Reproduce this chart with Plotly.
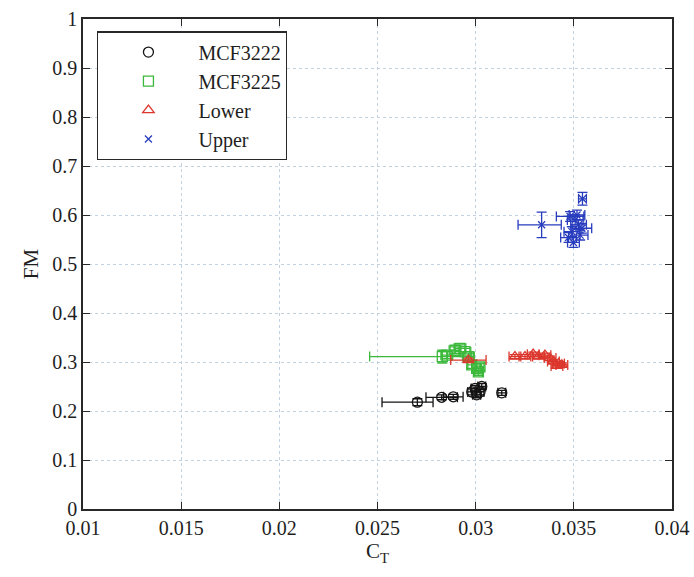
import plotly.graph_objects as go

# ---- data ----
mcf3222_ct = [0.02703, 0.02827, 0.02886, 0.02980, 0.02997, 0.03005, 0.03022, 0.03031, 0.03133]
mcf3222_fm = [0.218, 0.228, 0.229, 0.239, 0.246, 0.233, 0.239, 0.250, 0.237]
mcf3222_exm = [0.0018, 0.0008, 0.0005, 0.0002, 0.0002, 0.0002, 0.0002, 0.0002, 0.0002]
mcf3222_exp = [0.0008, 0.0008, 0.0005, 0.0002, 0.0002, 0.0002, 0.0002, 0.0002, 0.0002]
mcf3222_ey = [0.007, 0.005, 0.005, 0.006, 0.006, 0.006, 0.006, 0.006, 0.005]

mcf3225_ct = [0.0283, 0.02853, 0.02895, 0.0292, 0.02945, 0.02963, 0.0298, 0.03005, 0.03022, 0.03014]
mcf3225_fm = [0.311, 0.314, 0.324, 0.328, 0.321, 0.311, 0.294, 0.287, 0.290, 0.280]
mcf3225_exm = [0.0037, 0.0003, 0.0003, 0.0003, 0.0003, 0.0003, 0.0002, 0.0002, 0.0002, 0.0002]
mcf3225_exp = [0.0015, 0.0003, 0.0003, 0.0003, 0.0003, 0.0003, 0.0002, 0.0002, 0.0002, 0.0002]
mcf3225_ey = [0.013, 0.007, 0.007, 0.007, 0.007, 0.007, 0.007, 0.007, 0.007, 0.007]

lower_ct = [0.02963, 0.0320, 0.03251, 0.03293, 0.0332, 0.03353, 0.03379, 0.03396, 0.03414, 0.03422, 0.03439]
lower_fm = [0.304, 0.311, 0.311, 0.316, 0.311, 0.314, 0.308, 0.301, 0.292, 0.297, 0.294]
lower_ex = [0.0009, 0.0003, 0.0003, 0.0003, 0.0003, 0.0003, 0.0003, 0.0003, 0.0003, 0.0003, 0.0003]
lower_ey = [0.004, 0.004, 0.004, 0.004, 0.004, 0.004, 0.004, 0.004, 0.004, 0.004, 0.004]

upper_ct = [0.03336, 0.03544, 0.03481, 0.03516, 0.03507, 0.03524, 0.03541, 0.03490, 0.03473, 0.03498, 0.03532]
upper_fm = [0.580, 0.633, 0.597, 0.600, 0.590, 0.580, 0.573, 0.566, 0.554, 0.544, 0.559]
upper_exm = [0.0012, 0.0002, 0.0007, 0.0004, 0.0004, 0.0004, 0.0005, 0.0004, 0.0004, 0.0003, 0.0004]
upper_exp = [0.0010, 0.0002, 0.0007, 0.0004, 0.0004, 0.0004, 0.0005, 0.0004, 0.0004, 0.0003, 0.0004]
upper_ey = [0.026, 0.013, 0.010, 0.010, 0.010, 0.010, 0.010, 0.010, 0.010, 0.010, 0.010]

x_ticks = [0.01, 0.015, 0.02, 0.025, 0.03, 0.035, 0.04]
y_ticks = [0, 0.1, 0.2, 0.3, 0.4, 0.5, 0.6, 0.7, 0.8, 0.9, 1]

BLACK = "rgb(20,20,20)"
GREEN = "rgb(60,185,60)"
RED = "rgb(220,55,45)"
BLUE = "rgb(40,60,190)"

fig = go.Figure()


def add(name, ct, fm, exm, exp, ey, color, symbol, size):
    fig.add_trace(go.Scatter(
        x=ct, y=fm, mode="markers", name=name,
        marker=dict(symbol=symbol, size=size, color=color,
                    line=dict(color=color, width=1.3)),
        error_x=dict(type="data", array=exp, arrayminus=exm, color=color,
                     thickness=1.3, width=5),
        error_y=dict(type="data", array=ey, color=color, thickness=1.3, width=5),
    ))


add("MCF3222", mcf3222_ct, mcf3222_fm, mcf3222_exm, mcf3222_exp, mcf3222_ey,
    BLACK, "circle-open", 10)
add("MCF3225", mcf3225_ct, mcf3225_fm, mcf3225_exm, mcf3225_exp, mcf3225_ey,
    GREEN, "square-open", 10)
add("Lower", lower_ct, lower_fm, lower_ex, lower_ex, lower_ey,
    RED, "triangle-up-open", 10)
add("Upper", upper_ct, upper_fm, upper_exm, upper_exp, upper_ey,
    BLUE, "x-thin-open", 7)

FONT = "Liberation Serif, Times New Roman, serif"
GRID = "rgb(195,210,225)"
AX = "rgb(40,40,40)"

fig.update_layout(
    width=694, height=577,
    margin=dict(l=83, r=22, t=19, b=68, autoexpand=False),
    paper_bgcolor="white", plot_bgcolor="white",
    font=dict(family=FONT, size=20, color="rgb(30,30,30)"),
    showlegend=True,
    legend=dict(
        x=0.024, y=0.975, xanchor="left", yanchor="top",
        bordercolor=AX, borderwidth=1.3,
        bgcolor="white", itemwidth=90,
        font=dict(family=FONT, size=20),
    ),
    xaxis=dict(
        range=[0.01, 0.04], tickvals=x_ticks,
        ticktext=[f"{v:g}" for v in x_ticks],
        showgrid=True, gridcolor=GRID, griddash="dot", gridwidth=1,
        showline=True, linecolor=AX, linewidth=1.5, mirror="ticks",
        ticks="inside", ticklen=7, tickcolor=AX,
        zeroline=False, automargin=False,
        title=dict(text="C<sub>T</sub>", standoff=6, font=dict(size=21)),
    ),
    yaxis=dict(
        range=[0, 1], tickvals=y_ticks,
        ticktext=[f"{v:g}" for v in y_ticks],
        showgrid=True, gridcolor=GRID, griddash="dot", gridwidth=1,
        showline=True, linecolor=AX, linewidth=1.5, mirror="ticks",
        ticks="inside", ticklen=7, tickcolor=AX,
        zeroline=False, automargin=False,
        title=dict(text="FM", standoff=8, font=dict(size=21)),
    ),
)

fig.write_html("out.html", config={"displayModeBar": False},
               post_script="document.body.style.margin='0';")
